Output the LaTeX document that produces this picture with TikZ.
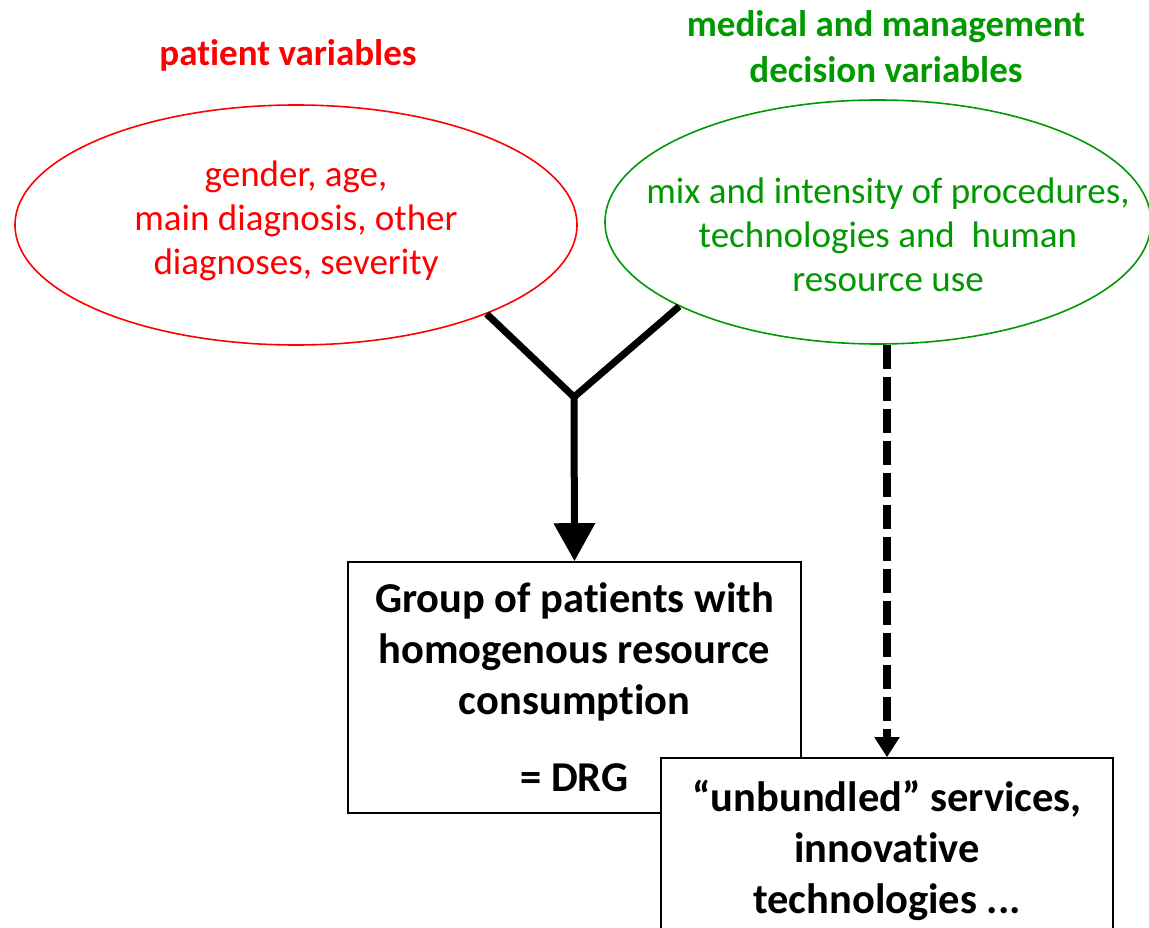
\documentclass[tikz,border=0pt]{standalone}
\usepackage{fontspec}
\setmainfont{Carlito}[Ligatures={NoCommon}]
\usetikzlibrary{shapes.geometric,arrows.meta}
\definecolor{myred}{RGB}{255,0,0}
\definecolor{mygreen}{RGB}{0,153,0}
\tikzset{
  ovalbox/.style={ellipse, draw, line width=1.6pt, inner sep=0pt},
  ovaltext/.style={align=center, font=\fontsize{37}{44}\selectfont},
  titletext/.style={align=center, font=\fontsize{37}{46}\selectfont\bfseries},
  rectbox/.style={draw, line width=1.6pt, fill=white, align=center, inner sep=0pt, font=\fontsize{42.5}{51}\selectfont\bfseries},
  solidarrow/.style={line width=7pt},
  dasharrow/.style={line width=7.5pt, dash pattern=on 24pt off 8pt}
}
\begin{document}
\begin{tikzpicture}[x=1pt,y=-1pt]
\clip (0,0) rectangle (1149,928);
\fill[white] (0,0) rectangle (1149,928);
% titles
\node[titletext, text=myred] (ptitle) at (288,55) {patient variables};
\node[titletext, text=mygreen] (gtitle) at (886,47) {medical and management\\decision variables};
% ellipses
\node[ovalbox, draw=myred, minimum width=562pt, minimum height=240pt] (red) at (296,225) {};
\node[ovaltext, text=myred] (redtext) at (296,221) {gender, age,\\main diagnosis, other\\diagnoses, severity};
\node[ovalbox, draw=mygreen, minimum width=546pt, minimum height=244pt] (green) at (878,222) {};
\node[ovaltext, text=mygreen] (greentext) at (888,235) {mix and intensity of procedures,\\technologies and~ human\\resource use};
% boxes
\node[rectbox, minimum width=453pt, minimum height=251pt] (drg) at (574.5,687.5) {Group of patients with\\homogenous resource\\consumption\\[26pt]= DRG};
\node[rectbox, minimum width=452pt, minimum height=184pt] (unb) at (887,850) {“unbundled” services,\\innovative\\technologies ...};
% connectors
\coordinate (j) at (574,397);
\draw[solidarrow] (red.-25.3) -- (j);
\draw[solidarrow] (green.203.4) -- (j);
\draw[solidarrow, -{Triangle[width=40pt,length=38pt]}] (j) -- (drg.north);
\draw[dasharrow, -{Triangle[width=24pt,length=20pt]}] (unb.north |- green.south) -- (unb.north);
\end{tikzpicture}
\end{document}
